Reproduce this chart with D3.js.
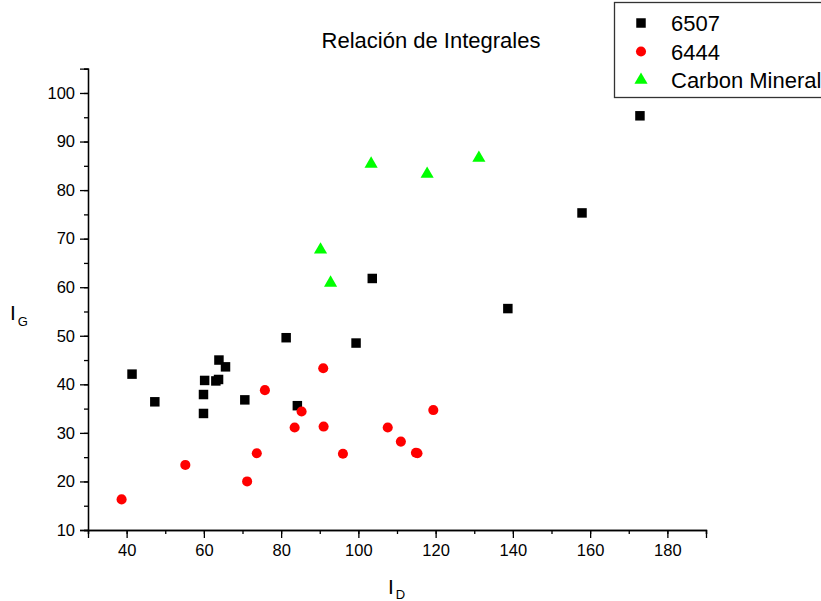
<!DOCTYPE html>
<html>
<head>
<meta charset="utf-8">
<script src="https://cdn.jsdelivr.net/npm/d3@7"></script>
<style>
  html, body { margin: 0; padding: 0; background: #fff; }
  svg { display: block; font-family: "Liberation Sans", Arial, sans-serif; }
</style>
</head>
<body>
<svg id="chart" width="821" height="601"></svg>
<script>
// Series: I_D (x) and I_G (y) integrals
const s6507X = [41.4, 47.3, 59.9, 59.9, 60.2, 63.1, 63.8, 63.9, 65.6, 70.6, 81.3, 84.2, 99.4, 103.6, 138.7, 157.9, 172.9];
const s6507Y = [42.1, 36.4, 37.9, 34.0, 40.8, 40.7, 41.0, 45.0, 43.6, 36.8, 49.6, 35.6, 48.5, 61.8, 55.6, 75.3, 95.3];

const s6444X = [38.7, 55.2, 71.2, 73.7, 75.8, 83.5, 85.3, 90.9, 91.0, 96.0, 107.6, 111.0, 114.9, 115.3, 119.4];
const s6444Y = [16.3, 23.4, 20.0, 25.8, 38.8, 31.1, 34.4, 43.3, 31.3, 25.7, 31.1, 28.2, 25.9, 25.8, 34.7];

const carbonX = [90.2, 92.8, 103.3, 117.8, 131.2];
const carbonY = [67.7, 60.9, 85.4, 83.3, 86.6];

const xTicks = [40, 60, 80, 100, 120, 140, 160, 180];
const yTicks = [10, 20, 30, 40, 50, 60, 70, 80, 90, 100];

const seriesNames = ["6507", "6444", "Carbon Mineral"];

const svg = d3.select("#chart");

const x = d3.scaleLinear().domain([30, 190]).range([88, 706]);
const y = d3.scaleLinear().domain([10, 105]).range([530, 68.7]);

// Title
svg.append("text")
  .attr("x", 431).attr("y", 48)
  .attr("text-anchor", "middle")
  .attr("font-size", 22)
  .attr("fill", "#000")
  .text("Relación de Integrales");

// Axes: major ticks labelled, minor ticks in between
const xAxis = svg.append("g").attr("transform", `translate(0,${y(10)})`);
xAxis.append("g")
  .call(d3.axisBottom(x).tickValues(d3.range(30, 191, 10)).tickSize(4).tickFormat(""));
xAxis.append("g")
  .call(d3.axisBottom(x).tickValues(xTicks).tickSize(8).tickPadding(6).tickFormat(d3.format("d")));
xAxis.selectAll("path.domain").attr("stroke", "#000").attr("stroke-width", 1.3);
xAxis.selectAll("line").attr("stroke", "#000").attr("stroke-width", 1.3);
xAxis.selectAll("text").attr("font-size", 16.5).attr("fill", "#000")
  .attr("font-family", "Liberation Sans, Arial, sans-serif");

const yAxis = svg.append("g").attr("transform", `translate(${x(30)},0)`);
yAxis.append("g")
  .call(d3.axisLeft(y).tickValues(d3.range(10, 106, 5)).tickSize(4).tickFormat(""));
yAxis.append("g")
  .call(d3.axisLeft(y).tickValues(yTicks).tickSize(8).tickPadding(5).tickFormat(d3.format("d")));
yAxis.selectAll("path.domain").attr("stroke", "#000").attr("stroke-width", 1.3);
yAxis.selectAll("line").attr("stroke", "#000").attr("stroke-width", 1.3);
yAxis.selectAll("text").attr("font-size", 16.5).attr("fill", "#000")
  .attr("font-family", "Liberation Sans, Arial, sans-serif");

// Axis titles with subscripts
const xLab = svg.append("text").attr("x", 388).attr("y", 594).attr("font-size", 21).attr("fill", "#000");
xLab.append("tspan").text("I");
xLab.append("tspan").attr("dy", 5).attr("dx", 2).attr("font-size", 13).text("D");

const yLab = svg.append("text").attr("x", 10).attr("y", 320).attr("font-size", 21).attr("fill", "#000");
yLab.append("tspan").text("I");
yLab.append("tspan").attr("dy", 6).attr("dx", 2).attr("font-size", 13).text("G");

// Marker shapes
const squareSym = d3.symbol().type(d3.symbolSquare).size(90);
const circleSym = d3.symbol().type(d3.symbolCircle).size(80);
const triSym = d3.symbol().type(d3.symbolTriangle).size(75);

const plot = svg.append("g");

plot.selectAll("path.s6507")
  .data(d3.zip(s6507X, s6507Y))
  .join("path")
  .attr("class", "s6507")
  .attr("d", squareSym)
  .attr("transform", d => `translate(${x(d[0])},${y(d[1])})`)
  .attr("fill", "#000");

plot.selectAll("path.s6444")
  .data(d3.zip(s6444X, s6444Y))
  .join("path")
  .attr("class", "s6444")
  .attr("d", circleSym)
  .attr("transform", d => `translate(${x(d[0])},${y(d[1])})`)
  .attr("fill", "#ff0000");

plot.selectAll("path.carbon")
  .data(d3.zip(carbonX, carbonY))
  .join("path")
  .attr("class", "carbon")
  .attr("d", triSym)
  .attr("transform", d => `translate(${x(d[0])},${y(d[1])})`)
  .attr("fill", "#00ff00");

// Legend
const legend = svg.append("g");
legend.append("rect")
  .attr("x", 614.5).attr("y", 2.5).attr("width", 220).attr("height", 95)
  .attr("fill", "#fff").attr("stroke", "#333").attr("stroke-width", 1.3);

const legendSyms = [
  { sym: squareSym, color: "#000" },
  { sym: circleSym, color: "#ff0000" },
  { sym: triSym, color: "#00ff00" }
];
seriesNames.forEach((name, i) => {
  const cy = 23 + i * 28.5;
  legend.append("path")
    .attr("d", legendSyms[i].sym)
    .attr("transform", `translate(641,${cy})`)
    .attr("fill", legendSyms[i].color);
  legend.append("text")
    .attr("x", 671).attr("y", cy + 8)
    .attr("font-size", 22)
    .attr("fill", "#000")
    .text(name);
});
</script>
</body>
</html>
